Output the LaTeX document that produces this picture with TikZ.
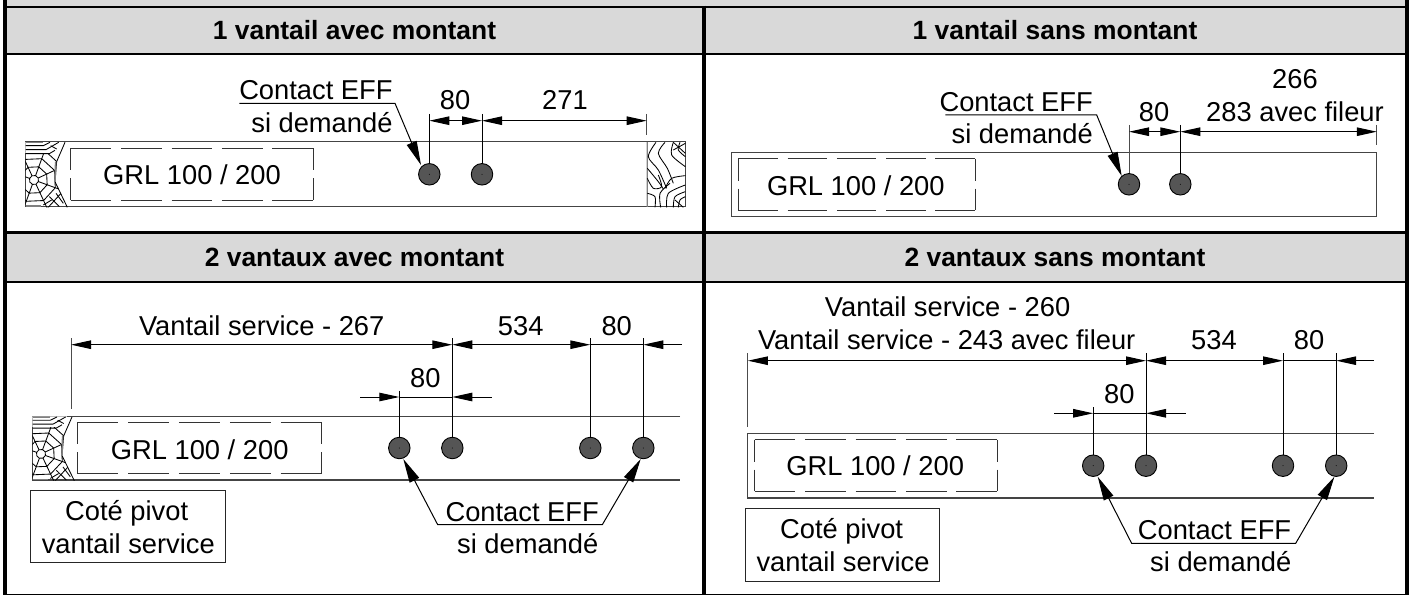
\documentclass[tikz,border=0pt]{standalone}
\usepackage{fontspec}
\setmainfont{Liberation Sans}
\usetikzlibrary{arrows.meta}
\definecolor{hdr}{HTML}{D9D9D9}
\definecolor{pinfill}{HTML}{555555}
\definecolor{beamline}{HTML}{444444}
\tikzset{
  >={Triangle[length=20bp,width=8.5bp]},
  txt/.style={anchor=base,inner sep=0pt,font=\fontsize{27.3bp}{27bp}\selectfont},
  hd/.style={anchor=base,inner sep=0pt,font=\fontsize{26.4bp}{27bp}\selectfont\bfseries},
  frameln/.style={draw=black,line cap=butt},
  beamln/.style={draw=beamline,line width=1.1bp},
  dimln/.style={draw=black,line width=1bp},
  leaderln/.style={draw=black,line width=1bp,>={Triangle[length=24bp,width=10.5bp]}},
  extln/.style={draw=black,line width=1bp},
  woodln/.style={draw=black,line width=0.85bp},
  dashln/.style={draw=black!80,line width=1bp},
  pinhole/.style={circle,draw=black,line width=0.9bp,fill=pinfill,minimum size=21.5bp,inner sep=0pt},
  noteboxst/.style={draw=black!85,line width=1bp}
}
\newcommand{\grlbox}[4]{%
  \pgfmathsetmacro{\dashw}{(#3-#1-4*9.7)/5}%
  \pgfmathsetmacro{\dashh}{(#4-#2-8)/2}%
  \draw[dashln,dash pattern=on \dashw bp off 9.7bp] (#1,#2) -- (#3,#2);
  \draw[dashln,dash pattern=on \dashw bp off 9.7bp] (#1,#4) -- (#3,#4);
  \draw[dashln,dash pattern=on \dashh bp off 8bp] (#1,#2) -- (#1,#4);
  \draw[dashln,dash pattern=on \dashh bp off 8bp] (#3,#2) -- (#3,#4);
}
\newcommand{\woodleft}{%
  \begin{scope}
  \clip (46,50) -- (165,50) -- (140,110) -- (135,170) -- (172,247) -- (46,247) -- cycle;
  \foreach \r in {14,42,68,94}{
    \draw[woodln] ([shift={(72,165)}]20:\r) -- ([shift={(72,165)}]65:\r) -- ([shift={(72,165)}]110:\r) -- ([shift={(72,165)}]155:\r) -- ([shift={(72,165)}]200:\r) -- ([shift={(72,165)}]245:\r) -- ([shift={(72,165)}]290:\r) -- ([shift={(72,165)}]335:\r) -- cycle;
  }
  \foreach \a in {20,65,110,200,245,290,335}{
    \draw[woodln] ([shift={(72,165)}]\a:14) -- ([shift={(72,165)}]\a:100);
  }
  \fill[white] (46,50) rectangle (150,84);
  \draw[woodln] (47,62) -- (100,62) -- (120,52);
  \draw[woodln] (47,74) -- (108,74) -- (146,52);
  \draw[woodln] (47,86) -- (118,86) -- (135,76);
  \draw[woodln] (122,62) -- (140,72);
  \draw[woodln] (118,215) -- (148,245);
  \draw[woodln] (138,205) -- (160,235);
  \draw[woodln] (100,240) -- (125,225);
  \draw[draw=gray,line width=1.6bp] (47,243) -- (92,243);
  \draw[draw=gray,line width=1.6bp] (47,53) -- (100,53);
  \end{scope}
  \draw[woodln] (165,52) -- (140,110) -- (135,170) -- (172,247);
  \draw[draw=gray,line width=1.6bp] (137,110) -- (135,170);
}
\begin{document}
\begin{tikzpicture}[x=1bp,y=-1bp]
\useasboundingbox (0,0) rectangle (1413,595);
% header bands
\fill[hdr] (7,0) rectangle (1405,6);
\fill[hdr] (7,7.7) rectangle (1405,54);
\fill[hdr] (7,233.7) rectangle (1405,281);
% frame
\draw[frameln,line width=2bp] (7,6.7) -- (1405,6.7);
\draw[frameln,line width=1.6bp] (7,54.3) -- (1405,54.3);
\draw[frameln,line width=3bp] (7,232.2) -- (1405,232.2);
\draw[frameln,line width=1.7bp] (7,281.8) -- (1405,281.8);
\draw[frameln,line width=1.4bp] (7,594.3) -- (1405,594.3);
\draw[frameln,line width=4.3bp] (4.85,0) -- (4.85,595);
\draw[frameln,line width=3.7bp] (703.9,5.7) -- (703.9,595);
\draw[frameln,line width=4.3bp] (1407.2,0) -- (1407.2,595);
% headers
\node[hd] (h1) at (354.5,40) {1 vantail avec montant};
\node[hd] (h2) at (1055,40) {1 vantail sans montant};
\node[hd] (h3) at (354.5,266) {2 vantaux avec montant};
\node[hd] (h4) at (1055,266) {2 vantaux sans montant};

% ---------- panel 1
\draw[beamln] (25.3,141.7) rectangle (685.3,206.7);
\begin{scope}[shift={(10,125)},x=0.3333bp,y=-0.3333bp]
  \woodleft
\end{scope}
\begin{scope}[shift={(630,125)},x=0.3333bp,y=-0.3333bp]
  \clip (50,50) rectangle (167,247);
  \draw[draw=gray,line width=1.6bp] (51,50) -- (51,245);
  \draw[woodln] plot[smooth] coordinates {(78,52) (55,95) (85,135) (110,190)};
  \draw[woodln] plot[smooth] coordinates {(105,52) (85,85) (112,130) (130,175)};
  \draw[woodln] plot[smooth] coordinates {(52,130) (85,170) (100,192)};
  \draw[woodln] plot[smooth] coordinates {(52,160) (70,190) (95,185) (85,150)};
  \draw[woodln] plot[smooth] coordinates {(130,52) (125,90) (166,125)};
  \draw[woodln] plot[smooth] coordinates {(105,190) (125,160) (166,152)};
  \draw[woodln] plot[smooth] coordinates {(52,205) (75,215) (75,247)};
  \draw[woodln] plot[smooth] coordinates {(92,247) (90,205) (120,175)};
  \draw[woodln] plot[smooth] coordinates {(110,247) (115,205) (166,180)};
  \draw[woodln] plot[smooth] coordinates {(130,247) (135,215) (166,200)};
  \draw[woodln] plot[smooth] coordinates {(145,247) (150,225) (166,215)};
  \draw[woodln] (135,225) -- (160,247);
  \draw[woodln] (130,52) -- (166,85);
  \draw[woodln] (166,55) -- (130,75);
  \draw[woodln] plot[smooth] coordinates {(150,52) (145,75) (166,95)};
\end{scope}
\grlbox{70.7}{148.3}{313}{200.3}
\node[txt] (g1) at (192,184.5) {GRL 100 / 200};
\node[pinhole] (p1a) at (429.3,174.3) {};
\node[pinhole] (p1b) at (482,174.3) {};
\fill (p1a.center) circle (0.5bp) (p1b.center) circle (0.5bp);
\coordinate (e1a) at (429.3,114);
\coordinate (e1b) at (482,114);
\coordinate (e1c) at (646.7,114);
\coordinate (e1c2) at (646.7,135);
\coordinate (d1a) at (429.3,120.7);
\coordinate (d1b) at (482,120.7);
\coordinate (d1c) at (646.7,120.7);
\draw[extln] (e1a) -- (p1a.north);
\draw[extln] (e1b) -- (p1b.north);
\draw[extln,draw=black!70] (e1c) -- (e1c2);
\draw[dimln,<->] (d1a) -- (d1b);
\draw[dimln,<->] (d1b) -- (d1c);
\node[txt] (t1a) at (455,110) {80};
\node[txt] (t1b) at (565,110) {271};
\node[txt,anchor=base east] (c1) at (392.7,99.3) {Contact EFF};
\node[txt,anchor=base east] (s1) at (392.7,132.7) {si demandé};
\coordinate (u1a) at (239.3,103.3);
\coordinate (u1b) at (395,103.3);
\coordinate (l1) at (421,165);
\draw[leaderln,->] (u1a) -- (u1b) -- (l1);

% ---------- panel 2
\draw[beamln] (731.6,152.3) rectangle (1376.8,216.4);
\grlbox{738.4}{159}{975}{210}
\node[txt] (g2) at (855.8,195.8) {GRL 100 / 200};
\node[pinhole] (p2a) at (1129,184.3) {};
\node[pinhole] (p2b) at (1180.3,184.3) {};
\fill (p2a.center) circle (0.5bp) (p2b.center) circle (0.5bp);
\coordinate (e2a) at (1129,125);
\coordinate (e2b) at (1180.3,125);
\coordinate (e2c) at (1376.8,125);
\coordinate (e2c2) at (1376.8,145);
\coordinate (d2a) at (1129,131.7);
\coordinate (d2b) at (1180.3,131.7);
\coordinate (d2c) at (1376.8,131.7);
\draw[extln,draw=black!70] (e2a) -- (p2a.north);
\draw[extln] (e2b) -- (p2b.north);
\draw[extln,draw=black!70] (e2c) -- (e2c2);
\draw[dimln,<->] (d2a) -- (d2b);
\draw[dimln,<->] (d2b) -- (d2c);
\node[txt] (t2a) at (1154,121.7) {80};
\node[txt] (t2b) at (1295,121.5) {283 avec fileur};
\node[txt] (t2c) at (1295,88.3) {266};
\node[txt,anchor=base east] (c2) at (1093,111.7) {Contact EFF};
\node[txt,anchor=base east] (s2) at (1093,143.3) {si demandé};
\coordinate (u2a) at (945.3,115);
\coordinate (u2b) at (1096.7,115);
\coordinate (l2) at (1121.7,176);
\draw[leaderln,->] (u2a) -- (u2b) -- (l2);

% ---------- panel 3
\draw[beamln] (680,416.3) -- (32.3,416.3) -- (32.3,480) -- (680,480);
\begin{scope}[shift={(17,399.95)},x=0.3333bp,y=-0.327bp]
  \woodleft
\end{scope}
\grlbox{77.3}{422.7}{321.7}{473.3}
\node[txt] (g3) at (199.7,459) {GRL 100 / 200};
\node[pinhole] (p3a) at (399.3,448) {};
\node[pinhole] (p3b) at (452.3,448) {};
\node[pinhole] (p3c) at (590.3,448) {};
\node[pinhole] (p3d) at (643.3,448) {};
\fill (p3a.center) circle (0.5bp) (p3b.center) circle (0.5bp) (p3c.center) circle (0.5bp) (p3d.center) circle (0.5bp);
\coordinate (e3l) at (71,338.3);
\coordinate (e3l2) at (71,409.3);
\coordinate (e3a) at (399.3,390.7);
\coordinate (e3b) at (452.3,338.3);
\coordinate (e3c) at (590.3,338.3);
\coordinate (e3d) at (643.3,338.3);
\draw[extln,draw=black!70] (e3l) -- (e3l2);
\draw[extln] (e3a) -- (p3a.north);
\draw[extln] (e3b) -- (p3b.north);
\draw[extln] (e3c) -- (p3c.north);
\draw[extln] (e3d) -- (p3d.north);
\coordinate (d3l) at (71,344.7);
\coordinate (d3b) at (452.3,344.7);
\coordinate (d3c) at (590.3,344.7);
\coordinate (d3d) at (643.3,344.7);
\coordinate (d3e) at (681.7,344.7);
\draw[dimln,<->] (d3l) -- (d3b);
\draw[dimln,<->] (d3b) -- (d3c);
\draw[dimln] (d3c) -- (d3d);
\draw[dimln,<-] (d3d) -- (d3e);
\coordinate (f3a) at (360,397);
\coordinate (f3b) at (399.3,397);
\coordinate (f3c) at (452.3,397);
\coordinate (f3d) at (492,397);
\draw[dimln,->] (f3a) -- (f3b);
\draw[dimln] (f3b) -- (f3c);
\draw[dimln,<-] (f3c) -- (f3d);
\node[txt] (t3a) at (261.7,335) {Vantail service - 267};
\node[txt] (t3b) at (520.7,335) {534};
\node[txt] (t3c) at (616.7,335) {80};
\node[txt] (t3d) at (425.3,387.3) {80};
\node[txt] (c3) at (522.2,521) {Contact EFF};
\node[txt] (s3) at (527.7,553.3) {si demandé};
\coordinate (u3a) at (437.7,524.7);
\coordinate (u3b) at (602.3,524.7);
\coordinate (l3a) at (403.3,459);
\coordinate (l3b) at (640.7,459);
\draw[leaderln,<->] (l3a) -- (u3a) -- (u3b) -- (l3b);
\node[noteboxst,minimum width=195bp,minimum height=72.4bp,inner sep=0pt] (b3) at (127.8,526.5) {};
\node[txt] (n3a) at (126.7,520) {Coté pivot};
\node[txt] (n3b) at (128.3,553.3) {vantail service};

% ---------- panel 4
\draw[beamln] (1374,433.3) -- (747.9,433.3) -- (747.9,498) -- (1374,498);
\grlbox{754.6}{439.7}{997.2}{491.3}
\node[txt] (g4) at (875.2,475) {GRL 100 / 200};
\node[pinhole] (p4a) at (1093.2,465.7) {};
\node[pinhole] (p4b) at (1146,465.7) {};
\node[pinhole] (p4c) at (1283,465.7) {};
\node[pinhole] (p4d) at (1336.2,465.7) {};
\fill (p4a.center) circle (0.5bp) (p4b.center) circle (0.5bp) (p4c.center) circle (0.5bp) (p4d.center) circle (0.5bp);
\coordinate (e4l) at (747.9,353);
\coordinate (e4l2) at (747.9,426.7);
\coordinate (e4a) at (1093.2,407.3);
\coordinate (e4b) at (1146,353);
\coordinate (e4c) at (1283,353);
\coordinate (e4d) at (1336.2,353);
\draw[extln,draw=black!70] (e4l) -- (e4l2);
\draw[extln] (e4a) -- (p4a.north);
\draw[extln] (e4b) -- (p4b.north);
\draw[extln] (e4c) -- (p4c.north);
\draw[extln] (e4d) -- (p4d.north);
\coordinate (d4l) at (747.9,360.7);
\coordinate (d4b) at (1146,360.7);
\coordinate (d4c) at (1283,360.7);
\coordinate (d4d) at (1336.2,360.7);
\coordinate (d4e) at (1373.7,360.7);
\draw[dimln,<->] (d4l) -- (d4b);
\draw[dimln,<->] (d4b) -- (d4c);
\draw[dimln] (d4c) -- (d4d);
\draw[dimln,<-] (d4d) -- (d4e);
\coordinate (f4a) at (1054,413.3);
\coordinate (f4b) at (1093.2,413.3);
\coordinate (f4c) at (1146,413.3);
\coordinate (f4d) at (1185.7,413.3);
\draw[dimln,->] (f4a) -- (f4b);
\draw[dimln] (f4b) -- (f4c);
\draw[dimln,<-] (f4c) -- (f4d);
\node[txt] (t4a) at (947.6,316.7) {Vantail service - 260};
\node[txt] (t4b) at (946.7,349.3) {Vantail service - 243 avec fileur};
\node[txt] (t4c) at (1214,349.3) {534};
\node[txt] (t4d) at (1309,349.3) {80};
\node[txt] (t4e) at (1119.4,403.3) {80};
\node[txt] (c4) at (1214.5,539.3) {Contact EFF};
\node[txt] (s4) at (1220.8,571.7) {si demandé};
\coordinate (u4a) at (1131.6,543.3);
\coordinate (u4b) at (1295.7,543.3);
\coordinate (l4a) at (1097.7,476.7);
\coordinate (l4b) at (1334.4,476.7);
\draw[leaderln,<->] (l4a) -- (u4a) -- (u4b) -- (l4b);
\node[noteboxst,minimum width=193.4bp,minimum height=73bp,inner sep=0pt] (b4) at (842.3,545.2) {};
\node[txt] (n4a) at (841.6,538.3) {Coté pivot};
\node[txt] (n4b) at (843,571.7) {vantail service};
\end{tikzpicture}
\end{document}
